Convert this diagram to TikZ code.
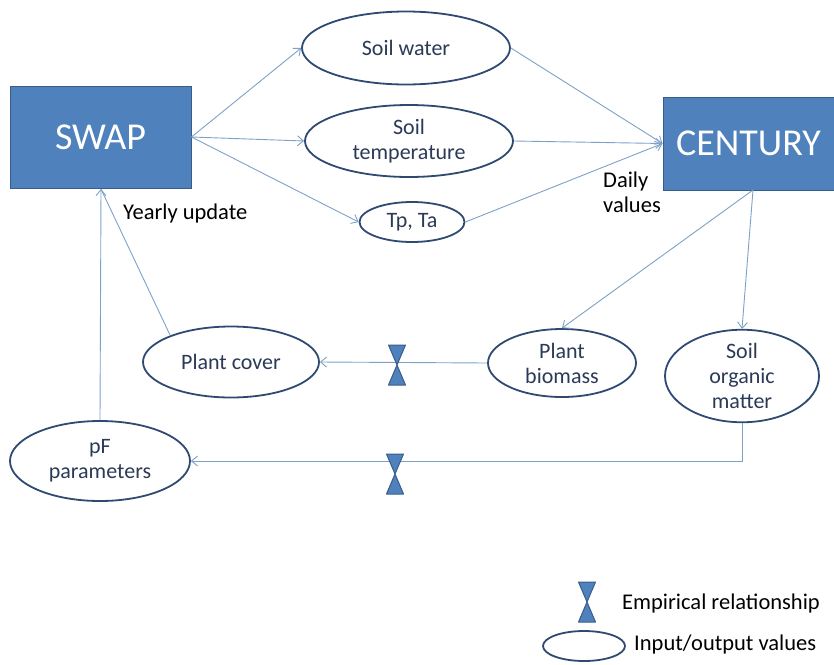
\documentclass[tikz,border=0pt]{standalone}
\usepackage{fontspec}
\setmainfont{Carlito}
\usetikzlibrary{arrows.meta,shapes.geometric}

\definecolor{boxfill}{HTML}{4F81BD}
\definecolor{boxedge}{HTML}{385D8A}
\definecolor{ovaledge}{HTML}{2F4A72}
\definecolor{ovaltext}{HTML}{2B3A57}
\definecolor{wire}{HTML}{7EA1C8}

\tikzset{
  model/.style={rectangle, draw=boxedge, line width=1pt, fill=boxfill,
    text=white, font=\fontsize{38}{40}\selectfont, inner sep=0pt},
  oval/.style={ellipse, draw=ovaledge, line width=1.8pt, fill=white,
    text=ovaltext, font=\fontsize{22}{25}\selectfont, align=center, inner sep=0pt},
  flow/.style={draw=wire, line width=0.9pt,
    -{Straight Barb[length=6pt,width=10pt,line width=0.9pt]}},
  wirel/.style={draw=wire, line width=0.9pt},
  note/.style={font=\fontsize{22.5}{25}\selectfont, text=black, align=left, inner sep=0pt},
  valve/.pic={
    \filldraw[fill=boxfill, draw=boxedge, line width=1pt, line join=round]
      (-8.5,-20) -- (8.5,-20) -- (0,0) -- cycle
      (0,0) -- (-8.5,20) -- (8.5,20) -- cycle;
  }
}

\begin{document}
\begin{tikzpicture}[x=1pt, y=-1pt]
\useasboundingbox (0,0) rectangle (834,664);

% model boxes
\node[model, minimum width=181pt, minimum height=102pt] (swap) at (100.5,137) {SWAP};
\node[model, minimum width=171pt, minimum height=93pt] (cen) at (748.5,143.5) {CENTURY};

% exchanged quantities
\node[oval, minimum width=208pt, minimum height=73pt] (sw) at (406,48) {Soil water};
\node[oval, minimum width=208pt, minimum height=72pt] (st) at (409,141) {Soil\\temperature};
\node[oval, minimum width=105pt, minimum height=40pt] (tp) at (412,222) {Tp, Ta};
\node[oval, minimum width=176pt, minimum height=71pt] (pc) at (231,362) {Plant cover};
\node[oval, minimum width=180pt, minimum height=80pt] (pf) at (100,461) {pF\\parameters};
\node[oval, minimum width=148pt, minimum height=68pt] (pb) at (562,363) {Plant\\biomass};
\node[oval, minimum width=154pt, minimum height=92pt] (som) at (742,376) {Soil\\organic\\matter};

% SWAP outputs
\draw[flow] (swap.east) -- (sw.west);
\draw[flow] (swap.east) -- (st.west);
\draw[flow] (swap.east) -- (tp.west);

% daily inputs to CENTURY
\draw[flow] (sw.east) -- (cen.west);
\draw[flow] (st.east) -- (cen.west);
\draw[flow] (tp.east) -- (cen.west);

% CENTURY outputs
\coordinate (cb) at (753,190);
\draw[flow] (cb) -- (pb.north);
\draw[flow] (cb) -- (som.north);

% empirical links
\draw[flow] (pb.west) -- (pc.east);
\coordinate (bend) at (som.south |- pf.east);
\draw[flow] (som.south) -- (bend) -- (pf.east);
\pic at (397,365) {valve};
\pic at (395,474) {valve};

% yearly feedback to SWAP
\coordinate (sin) at (101,189);
\draw[flow] (pf.north) -- (sin);
\draw[wirel] (170,335) -- (sin);

% labels
\node[note, anchor=west] (yu) at (123,213) {Yearly update};
\node[note, anchor=west] (dv) at (603,192) {Daily\\values};

% legend
\pic at (587,602) {valve};
\node[note, anchor=west] (lg1) at (622,603) {Empirical relationship};
\node[ellipse, draw=ovaledge, line width=1.8pt, minimum width=82pt, minimum height=30pt, inner sep=0pt] (lgo) at (584,646) {};
\node[note, anchor=west] (lg2) at (634,644) {Input/output values};
\end{tikzpicture}
\end{document}
